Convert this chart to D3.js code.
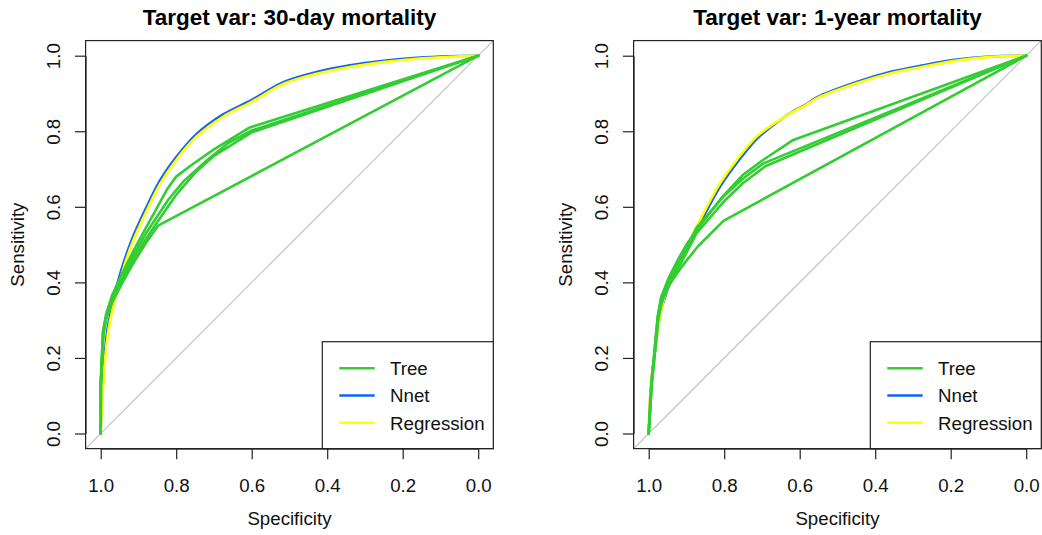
<!DOCTYPE html>
<html>
<head>
<meta charset="utf-8">
<script src="https://cdn.jsdelivr.net/npm/d3@7"></script>
<style>
  html, body { margin: 0; padding: 0; background: #fff; }
  svg { display: block; font-family: "Liberation Sans", Arial, sans-serif; }
</style>
</head>
<body>
<svg id="chart" width="1042" height="535"></svg>
<script>
// ROC curves, [specificity, sensitivity] pairs, one array per fold.
const titles = ["Target var: 30-day mortality", "Target var: 1-year mortality"];
const legendLabels = ["Tree", "Nnet", "Regression"];
const modelColors = ["#32CD32", "#1464F4", "#FFFF00"];
const tickValues = [1.0, 0.8, 0.6, 0.4, 0.2, 0.0];

const tree30 = [
  [[1,0],[0.9996,0.13],[0.993,0.26],[0.985,0.305],[0.968,0.35],[0.942,0.40],[0.914,0.45],[0.88,0.505],[0.848,0.55],[0,1]],
  [[1,0],[0.9996,0.14],[0.994,0.27],[0.986,0.315],[0.97,0.365],[0.945,0.42],[0.915,0.48],[0.88,0.545],[0.852,0.595],[0.825,0.645],[0.8,0.68],[0.763,0.708],[0.7,0.752],[0.605,0.81],[0,1]],
  [[1,0],[0.9996,0.14],[0.994,0.268],[0.985,0.31],[0.969,0.36],[0.943,0.41],[0.914,0.47],[0.88,0.53],[0.85,0.575],[0.82,0.62],[0.78,0.668],[0.72,0.722],[0.66,0.77],[0.6,0.802],[0,1]],
  [[1,0],[0.9996,0.13],[0.993,0.265],[0.985,0.31],[0.968,0.355],[0.942,0.405],[0.914,0.46],[0.88,0.515],[0.85,0.56],[0.8,0.632],[0.75,0.69],[0.7,0.735],[0.6,0.797],[0,1]]
];
const nnet30 = [
  [[1,0],[0.996,0.1],[0.99,0.2],[0.983,0.27],[0.966,0.355],[0.945,0.435],[0.917,0.515],[0.881,0.595],[0.846,0.665],[0.802,0.729],[0.748,0.791],[0.677,0.844],[0.6,0.883],[0.516,0.93],[0.428,0.957],[0.34,0.975],[0.25,0.987],[0.163,0.995],[0.075,0.999],[0,1]]
];
const reg30 = [
  [[1,0],[0.995,0.1],[0.988,0.2],[0.98,0.27],[0.963,0.353],[0.942,0.43],[0.914,0.51],[0.878,0.59],[0.843,0.66],[0.8,0.724],[0.746,0.786],[0.675,0.839],[0.6,0.878],[0.516,0.925],[0.428,0.952],[0.34,0.97],[0.25,0.983],[0.163,0.992],[0.075,0.997],[0,1]]
];

const tree1y = [
  [[1,0],[0.992,0.13],[0.983,0.22],[0.975,0.3],[0.966,0.345],[0.948,0.39],[0.91,0.445],[0.87,0.495],[0.802,0.563],[0,1]],
  [[1,0],[0.993,0.13],[0.984,0.225],[0.976,0.31],[0.967,0.36],[0.948,0.41],[0.92,0.465],[0.9,0.5],[0.86,0.555],[0.806,0.625],[0.75,0.685],[0.70,0.722],[0.617,0.777],[0,1]],
  [[1,0],[0.993,0.13],[0.984,0.225],[0.976,0.31],[0.967,0.36],[0.947,0.405],[0.917,0.46],[0.873,0.545],[0.802,0.627],[0.75,0.675],[0.696,0.715],[0,1]],
  [[1,0],[0.992,0.13],[0.983,0.22],[0.975,0.305],[0.966,0.352],[0.946,0.40],[0.915,0.45],[0.873,0.53],[0.8,0.615],[0.75,0.663],[0.69,0.708],[0,1]]
];
const nnet1y = [
  [[1,0],[0.996,0.1],[0.99,0.17],[0.983,0.22],[0.975,0.28],[0.966,0.33],[0.957,0.36],[0.939,0.408],[0.915,0.455],[0.88,0.525],[0.844,0.594],[0.809,0.656],[0.765,0.718],[0.712,0.781],[0.66,0.824],[0.624,0.849],[0.58,0.873],[0.555,0.89],[0.449,0.931],[0.361,0.957],[0.273,0.975],[0.184,0.99],[0.096,0.998],[0,1]]
];
const reg1y = [
  [[1,0],[0.996,0.1],[0.99,0.17],[0.983,0.22],[0.975,0.28],[0.966,0.33],[0.958,0.362],[0.94,0.41],[0.917,0.459],[0.882,0.53],[0.846,0.6],[0.811,0.662],[0.767,0.724],[0.714,0.786],[0.661,0.825],[0.626,0.847],[0.582,0.87],[0.555,0.887],[0.449,0.927],[0.361,0.953],[0.273,0.971],[0.184,0.987],[0.096,0.997],[0,1]]
];

const panels = [
  { title: titles[0], models: [tree30, nnet30, reg30], dx: 0 },
  { title: titles[1], models: [tree1y, nnet1y, reg1y], dx: 548 }
];

const svg = d3.select("#chart");
const ink = "#111";

panels.forEach((p, pi) => {
  const x = d3.scaleLinear().domain([1, 0]).range([100.7, 478.2]);
  const y = d3.scaleLinear().domain([0, 1]).range([433.5, 55.7]);
  const x0 = x(1.04), x1 = x(-0.04), y0 = y(-0.04), y1 = y(1.04);

  const g = svg.append("g").attr("transform", `translate(${p.dx},0)`);

  const clipId = "clip" + pi;
  g.append("clipPath").attr("id", clipId)
    .append("rect").attr("x", x0).attr("y", y1).attr("width", x1 - x0).attr("height", y0 - y1);

  const plot = g.append("g").attr("clip-path", `url(#${clipId})`);

  // chance diagonal
  plot.append("line")
    .attr("x1", x(1.04)).attr("y1", y(-0.04))
    .attr("x2", x(-0.04)).attr("y2", y(1.04))
    .attr("stroke", "#BEBEBE").attr("stroke-width", 1.1);

  const smooth = d3.line().x(d => x(d[0])).y(d => y(d[1])).curve(d3.curveCatmullRom.alpha(0.5));
  const straight = d3.line().x(d => x(d[0])).y(d => y(d[1]));

  // draw order: nnet, regression, tree
  [1, 2, 0].forEach(mi => {
    p.models[mi].forEach(curve => {
      plot.append("path")
        .attr("d", (mi === 0 ? straight : smooth)(curve))
        .attr("fill", "none")
        .attr("stroke", modelColors[mi])
        .attr("stroke-width", mi === 1 ? 2.4 : 2.6)
        .attr("stroke-linejoin", "round")
        .attr("stroke-linecap", "round");
    });
  });

  // frame
  g.append("rect")
    .attr("x", x0).attr("y", y1).attr("width", x1 - x0).attr("height", y0 - y1)
    .attr("fill", "none").attr("stroke", "#222").attr("stroke-width", 1.2);

  // x axis
  const xa = g.append("g").attr("transform", `translate(0,${y0})`)
    .call(d3.axisBottom(x).tickValues(tickValues).tickFormat(d3.format(".1f")).tickSize(10.6).tickSizeOuter(0));
  xa.select(".domain").attr("stroke", "#222");
  xa.selectAll(".tick line").attr("stroke", "#222").attr("stroke-width", 1.2);
  xa.selectAll(".tick text").attr("y", 491.7 - y0).attr("dy", 0)
    .attr("font-size", 18.7).attr("fill", ink).attr("font-family", "Liberation Sans, Arial, sans-serif");

  // y axis
  const ya = g.append("g").attr("transform", `translate(${x0},0)`)
    .call(d3.axisLeft(y).tickValues(tickValues).tickFormat(d3.format(".1f")).tickSize(10.6).tickSizeOuter(0));
  ya.select(".domain").attr("stroke", "#222");
  ya.selectAll(".tick line").attr("stroke", "#222").attr("stroke-width", 1.2);
  ya.selectAll(".tick text")
    .attr("x", 0).attr("dy", 0)
    .attr("text-anchor", "middle")
    .attr("transform", `translate(${60 - x0},0) rotate(-90)`)
    .attr("font-size", 18.7).attr("fill", ink).attr("font-family", "Liberation Sans, Arial, sans-serif");

  // labels
  g.append("text").attr("x", (x(1) + x(0)) / 2).attr("y", 525)
    .attr("text-anchor", "middle").attr("font-size", 18.7).attr("fill", ink).text("Specificity");
  g.append("text")
    .attr("transform", `translate(24,${(y(0) + y(1)) / 2}) rotate(-90)`)
    .attr("text-anchor", "middle").attr("font-size", 18.7).attr("fill", ink).text("Sensitivity");
  g.append("text").attr("x", (x(1) + x(0)) / 2).attr("y", 25)
    .attr("text-anchor", "middle").attr("font-size", 22.5).attr("font-weight", "bold").attr("fill", "#000")
    .text(p.title);

  // legend
  const lg = g.append("g");
  lg.append("rect").attr("x", 322.3).attr("y", 341.7).attr("width", x1 - 322.3).attr("height", y0 - 341.7)
    .attr("fill", "#fff").attr("stroke", "#222").attr("stroke-width", 1.2);
  legendLabels.forEach((lab, i) => {
    const ly = 368.3 + i * 27.2;
    lg.append("line").attr("x1", 339.3).attr("x2", 374.7).attr("y1", ly).attr("y2", ly)
      .attr("stroke", modelColors[i]).attr("stroke-width", 2.6);
    lg.append("text").attr("x", 390).attr("y", ly + 6.8)
      .attr("font-size", 18.7).attr("fill", ink).text(lab);
  });
});
</script>
</body>
</html>
